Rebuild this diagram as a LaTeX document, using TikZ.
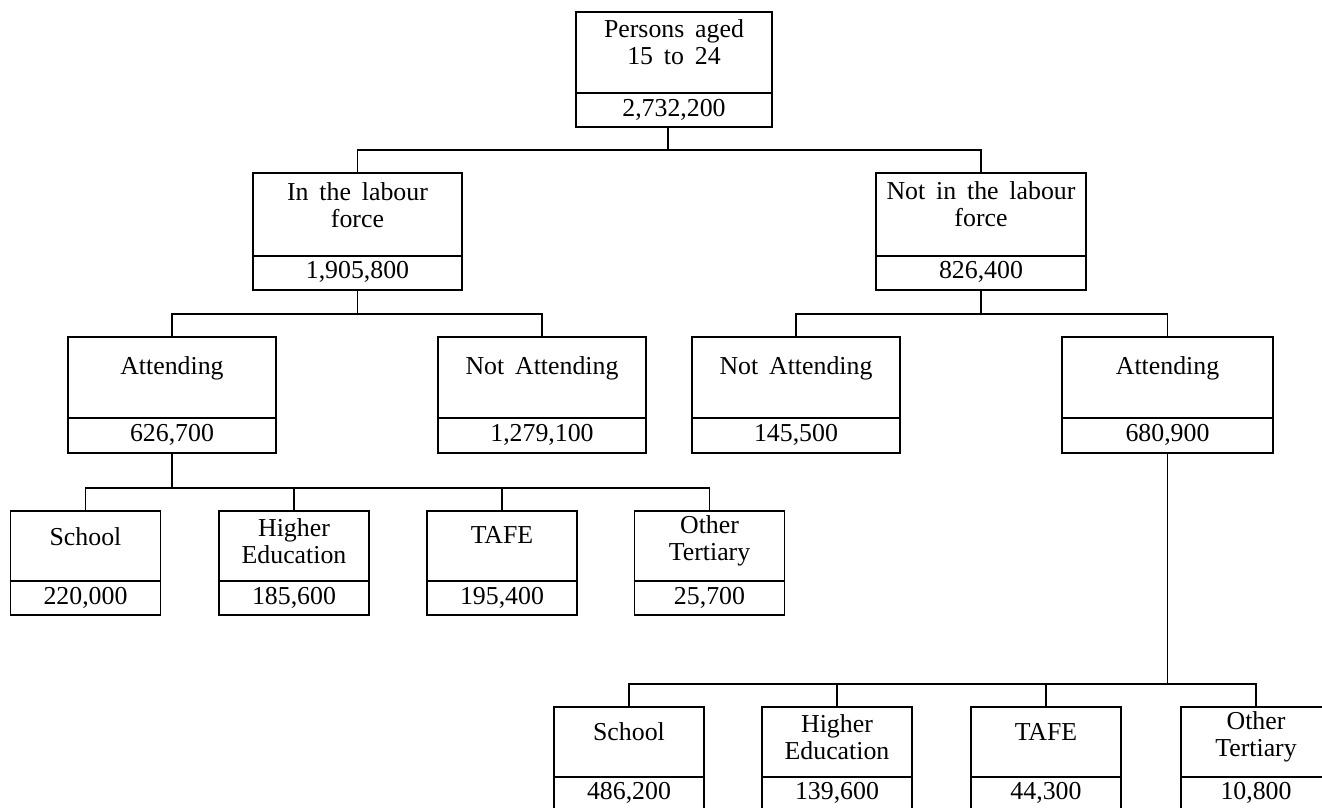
\documentclass[tikz,border=0pt]{standalone}
\usepackage{fontspec}
\setmainfont{Liberation Serif}
\newcommand\lblfont{\fontsize{14.7}{15.5}\selectfont\spaceskip=0.42em plus 0.1em\relax}
\begin{document}
\begin{tikzpicture}[x=0.02cm,y=-0.02cm,
  box/.style n args={2}{draw, line width=0.7pt, rectangle, inner sep=0pt,
     minimum width=#1*0.02cm, minimum height=#2*0.02cm},
  lbl/.style={align=center, inner sep=0pt, font=\lblfont},
  conn/.style={line width=0.7pt}]
\useasboundingbox (0,0) rectangle (1322,808);
\clip (0,0) rectangle (1322,808);
% boxes
\node[box={196}{115}] (top) at (674,69.5) {};
\node[box={209}{117}] (l1L) at (357.5,231.5) {};
\node[box={210}{117}] (l1R) at (981,231.5) {};
\node[box={208}{116}] (l2a) at (172,395) {};
\node[box={208}{116}] (l2b) at (542,395) {};
\node[box={208}{116}] (l2c) at (796,395) {};
\node[box={211}{116}] (l2d) at (1167.5,395) {};
\node[box={150}{104}] (l3a) at (85.5,563) {};
\node[box={150}{104}] (l3b) at (294,563) {};
\node[box={150}{104}] (l3c) at (502,563) {};
\node[box={150}{104}] (l3d) at (709.5,563) {};
\node[box={150}{104}] (l4a) at (629,759) {};
\node[box={150}{104}] (l4b) at (837,759) {};
\node[box={150}{104}] (l4c) at (1046,759) {};
\node[box={150}{104}] (l4d) at (1256,759) {};
% dividers
\coordinate (d0) at (0,93);
\coordinate (d1) at (0,256);
\coordinate (d2) at (0,418);
\coordinate (d3) at (0,581);
\coordinate (d4) at (0,777);
\draw[conn] (top.west |- d0) -- (top.east |- d0);
\foreach \n in {l1L,l1R} \draw[conn] (\n.west |- d1) -- (\n.east |- d1);
\foreach \n in {l2a,l2b,l2c,l2d} \draw[conn] (\n.west |- d2) -- (\n.east |- d2);
\foreach \n in {l3a,l3b,l3c,l3d} \draw[conn] (\n.west |- d3) -- (\n.east |- d3);
\foreach \n in {l4a,l4b,l4c,l4d} \draw[conn] (\n.west |- d4) -- (\n.east |- d4);
% labels
\node[lbl] (t0) at (674,42) {Persons aged\\15 to 24};
\node[lbl] (v0) at (674,110) {2,732,200};
\node[lbl] (t1L) at (357.5,205) {In the labour\\force};
\node[lbl] (v1L) at (357.5,272) {1,905,800};
\node[lbl] (t1R) at (981,204) {Not in the labour\\force};
\node[lbl] (v1R) at (981,272) {826,400};
\node[lbl] (t2a) at (172,368) {Attending};
\node[lbl] (v2a) at (172,435) {626,700};
\node[lbl] (t2b) at (542,368) {Not Attending};
\node[lbl] (v2b) at (542,435) {1,279,100};
\node[lbl] (t2c) at (796,368) {Not Attending};
\node[lbl] (v2c) at (796,435) {145,500};
\node[lbl] (t2d) at (1167.5,368) {Attending};
\node[lbl] (v2d) at (1167.5,435) {680,900};
\node[lbl] (t3a) at (85.5,537) {School};
\node[lbl] (v3a) at (85.5,598) {220,000};
\node[lbl] (t3b) at (294,541) {Higher\\Education};
\node[lbl] (v3b) at (294,598) {185,600};
\node[lbl] (t3c) at (502,535) {TAFE};
\node[lbl] (v3c) at (502,598) {195,400};
\node[lbl] (t3d) at (709.5,541) {Other\\Tertiary};
\node[lbl] (v3d) at (709.5,598) {25,700};
\node[lbl] (t4a) at (629,732) {School};
\node[lbl] (v4a) at (629,793) {486,200};
\node[lbl] (t4b) at (837,737) {Higher\\Education};
\node[lbl] (v4b) at (837,793) {139,600};
\node[lbl] (t4c) at (1046,732) {TAFE};
\node[lbl] (v4c) at (1046,793) {44,300};
\node[lbl] (t4d) at (1256,737) {Other\\Tertiary};
\node[lbl] (v4d) at (1256,793) {10,800};
% connectors
\coordinate (s0) at (668,127);
\coordinate (b1) at (0,150);
\coordinate (b2) at (0,314);
\coordinate (b3) at (0,488);
\coordinate (b4) at (0,684);
\draw[conn] (s0) -- (s0 |- b1);
\draw[conn] (l1L.north) -- (l1L.north |- b1) -- (l1R.north |- b1) -- (l1R.north);
\draw[conn] (l1L.south) -- (l1L.south |- b2);
\draw[conn] (l2a.north) -- (l2a.north |- b2) -- (l2b.north |- b2) -- (l2b.north);
\draw[conn] (l1R.south) -- (l1R.south |- b2);
\draw[conn] (l2c.north) -- (l2c.north |- b2) -- (l2d.north |- b2) -- (l2d.north);
\draw[conn] (l2a.south) -- (l2a.south |- b3);
\draw[conn] (l3a.north) -- (l3a.north |- b3) -- (l3d.north |- b3) -- (l3d.north);
\draw[conn] (l3b.north) -- (l3b.north |- b3);
\draw[conn] (l3c.north) -- (l3c.north |- b3);
\draw[conn] (l2d.south) -- (l2d.south |- b4);
\draw[conn] (l4a.north) -- (l4a.north |- b4) -- (l4d.north |- b4) -- (l4d.north);
\draw[conn] (l4b.north) -- (l4b.north |- b4);
\draw[conn] (l4c.north) -- (l4c.north |- b4);
\end{tikzpicture}
\end{document}
